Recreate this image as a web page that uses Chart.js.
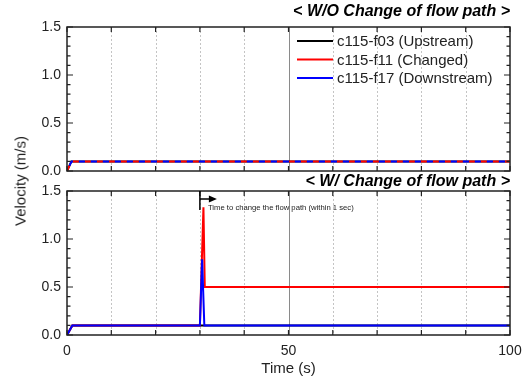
<!DOCTYPE html>
<html>
<head>
<meta charset="utf-8">
<script src="https://cdn.jsdelivr.net/npm/chart.js@4.4.1/dist/chart.umd.min.js"></script>
<style>
    body { margin: 0; background: #fff; }
    #wrap { position: relative; width: 525px; height: 381px; font-family: "Liberation Sans", Arial, sans-serif; }
    #wrap canvas { position: absolute; left: 0; top: 0; }
    #ylabel { position: absolute; left: 20px; top: 181px; transform: translate(-50%, -50%) rotate(-90deg); font-size: 15px; color: #222; white-space: nowrap; }
</style>
</head>
<body>
<div id="wrap">
    <canvas id="bottomChart" width="525" height="381"></canvas>
    <canvas id="topChart" width="525" height="381"></canvas>
    <div id="ylabel">Velocity (m/s)</div>
</div>
<script>
// series labels
const seriesNames = ['c115-f03 (Upstream)', 'c115-f11 (Changed)', 'c115-f17 (Downstream)'];

// top panel: without change of flow path
const topTime = [0, 1, 100];
const topUpstream = [0, 0.1, 0.1];
const topChanged = [0, 0.1, 0.1];
const topDownstream = [0, 0.1, 0.1];

// bottom panel: with change of flow path
const upTime = [0, 1.2, 100];
const upValues = [0, 0.1, 0.1];
const changedTime = [0, 1.2, 30, 30.8, 31.1, 100];
const changedValues = [0, 0.1, 0.1, 1.33, 0.5, 0.5];
const downTime = [0, 1.2, 30, 30.5, 31, 100];
const downValues = [0, 0.1, 0.1, 0.79, 0.1, 0.1];

const changeTime = 30;
const yTickLabels = [0, 0.5, 1.0, 1.5];
const xTickLabels = [0, 50, 100];

const FONT = '"Liberation Sans", Arial, sans-serif';
Chart.defaults.font.family = FONT;
Chart.defaults.color = '#222';

function points(xs, ys) {
    return xs.map((x, i) => ({ x: x, y: ys[i] }));
}

function isMajor(v) {
    return yTickLabels.some(t => Math.abs(t - v) < 1e-6);
}

const framePlugin = {
    id: 'frame',
    beforeDatasetsDraw(chart) {
        let ctx = chart.ctx;
        let area = chart.chartArea;
        let xs = chart.scales.x;
        ctx.save();
        xs.ticks.forEach(t => {
            if (t.value <= xs.min || t.value >= xs.max) return;
            let px = Math.round(xs.getPixelForValue(t.value)) + 0.5;
            ctx.beginPath();
            if (t.value == 50) {
                ctx.strokeStyle = '#8a8a8a';
                ctx.setLineDash([]);
            } else {
                ctx.strokeStyle = '#c4c4c4';
                ctx.setLineDash([2, 2]);
            }
            ctx.lineWidth = 1;
            ctx.moveTo(px, area.top);
            ctx.lineTo(px, area.bottom);
            ctx.stroke();
        });
        ctx.restore();
    },
    afterDatasetsDraw(chart) {
        let ctx = chart.ctx;
        let area = chart.chartArea;
        let xs = chart.scales.x;
        let ys = chart.scales.y;
        ctx.save();
        ctx.strokeStyle = '#222';
        ctx.lineWidth = 1.2;
        ctx.setLineDash([]);
        xs.ticks.forEach(t => {
            let px = xs.getPixelForValue(t.value);
            ctx.beginPath();
            ctx.moveTo(px, area.bottom);
            ctx.lineTo(px, area.bottom - 5);
            ctx.moveTo(px, area.top);
            ctx.lineTo(px, area.top + 5);
            ctx.stroke();
        });
        ys.ticks.forEach(t => {
            let py = ys.getPixelForValue(t.value);
            let len = isMajor(t.value) ? 6 : 3.5;
            ctx.beginPath();
            ctx.moveTo(area.left, py);
            ctx.lineTo(area.left + len, py);
            ctx.moveTo(area.right, py);
            ctx.lineTo(area.right - len, py);
            ctx.stroke();
        });
        ctx.lineWidth = 1.5;
        ctx.strokeRect(area.left, area.top, area.right - area.left, area.bottom - area.top);

        let title = chart.options.plugins.panelTitle;
        ctx.fillStyle = '#000';
        ctx.font = 'italic bold 16px ' + FONT;
        ctx.textAlign = 'right';
        ctx.textBaseline = 'middle';
        ctx.fillText(title.text, area.right, area.top - title.offset);
        ctx.restore();
    }
};

const legendPlugin = {
    id: 'insideLegend',
    afterDraw(chart) {
        let ctx = chart.ctx;
        let area = chart.chartArea;
        ctx.save();
        ctx.font = '15px ' + FONT;
        ctx.textAlign = 'left';
        ctx.textBaseline = 'middle';
        chart.data.datasets.forEach((ds, i) => {
            let y = area.top + 14 + i * 18.5;
            let x0 = area.right - 213;
            ctx.setLineDash([]);
            ctx.strokeStyle = ds.borderColor;
            ctx.lineWidth = 2;
            ctx.beginPath();
            ctx.moveTo(x0, y);
            ctx.lineTo(x0 + 36, y);
            ctx.stroke();
            ctx.fillStyle = '#222';
            ctx.fillText(ds.label, x0 + 40, y + 1);
        });
        ctx.restore();
    }
};

const arrowPlugin = {
    id: 'changeArrow',
    afterDatasetsDraw(chart) {
        let ctx = chart.ctx;
        let area = chart.chartArea;
        let x = chart.scales.x.getPixelForValue(changeTime);
        let top = area.top;
        ctx.save();
        ctx.strokeStyle = '#000';
        ctx.fillStyle = '#000';
        ctx.lineWidth = 1.5;
        ctx.beginPath();
        ctx.moveTo(x, top);
        ctx.lineTo(x, top + 19);
        ctx.moveTo(x, top + 8);
        ctx.lineTo(x + 10, top + 8);
        ctx.stroke();
        ctx.beginPath();
        ctx.moveTo(x + 17, top + 8);
        ctx.lineTo(x + 9, top + 4.5);
        ctx.lineTo(x + 9, top + 11.5);
        ctx.closePath();
        ctx.fill();
        ctx.font = '7.7px ' + FONT;
        ctx.fillStyle = '#222';
        ctx.textAlign = 'left';
        ctx.textBaseline = 'middle';
        ctx.fillText('Time to change the flow path (within 1 sec)', x + 8, top + 17);
        ctx.restore();
    }
};

function scales(showX) {
    return {
        x: {
            type: 'linear',
            min: 0,
            max: 100,
            grid: { display: false, drawTicks: false },
            border: { display: false },
            ticks: {
                display: showX,
                stepSize: 10,
                padding: 8,
                autoSkip: false,
                maxRotation: 0,
                font: { size: 14 },
                callback: v => xTickLabels.includes(v) ? String(v) : ''
            },
            title: {
                display: showX,
                text: 'Time (s)',
                font: { size: 15 },
                padding: { top: 0, bottom: 3 }
            },
            afterFit: s => {
                if (showX) s.height = 46;
                s.paddingLeft = 0;
                s.paddingRight = 0;
            }
        },
        y: {
            min: 0,
            max: 1.5,
            grid: { display: false, drawTicks: false },
            border: { display: false },
            ticks: {
                stepSize: 0.1,
                padding: 6,
                autoSkip: false,
                font: { size: 14 },
                callback: v => isMajor(v) ? v.toFixed(1) : ''
            },
            afterFit: s => {
                s.width = 67;
                s.paddingTop = 0;
                s.paddingBottom = 0;
            }
        }
    };
}

function line(label, data, color, dash, offset, order) {
    return {
        label: label,
        data: data,
        borderColor: color,
        borderWidth: 2,
        borderDash: dash,
        borderDashOffset: offset,
        pointRadius: 0,
        tension: 0,
        fill: false,
        order: order
    };
}

new Chart(document.getElementById('topChart'), {
    type: 'line',
    data: {
        datasets: [
            line(seriesNames[0], points(topTime, topUpstream), '#000000', [], 0, 3),
            line(seriesNames[1], points(topTime, topChanged), '#ff0000', [6, 6], 0, 2),
            line(seriesNames[2], points(topTime, topDownstream), '#0000ff', [6, 6], 6, 1)
        ]
    },
    options: {
        responsive: false,
        animation: false,
        layout: { padding: { top: 27, bottom: 210, left: 0, right: 15 } },
        scales: scales(false),
        plugins: {
            legend: { display: false },
            tooltip: { enabled: false },
            panelTitle: { text: '< W/O Change of flow path >', offset: 15 }
        }
    },
    plugins: [framePlugin, legendPlugin]
});

new Chart(document.getElementById('bottomChart'), {
    type: 'line',
    data: {
        datasets: [
            line(seriesNames[0], points(upTime, upValues), '#000000', [], 0, 3),
            line(seriesNames[1], points(changedTime, changedValues), '#ff0000', [], 0, 2),
            line(seriesNames[2], points(downTime, downValues), '#0000ff', [], 0, 1)
        ]
    },
    options: {
        responsive: false,
        animation: false,
        layout: { padding: { top: 191, bottom: 0, left: 0, right: 15 } },
        scales: scales(true),
        plugins: {
            legend: { display: false },
            tooltip: { enabled: false },
            panelTitle: { text: '< W/ Change of flow path >', offset: 9 }
        }
    },
    plugins: [framePlugin, arrowPlugin]
});
</script>
</body>
</html>
